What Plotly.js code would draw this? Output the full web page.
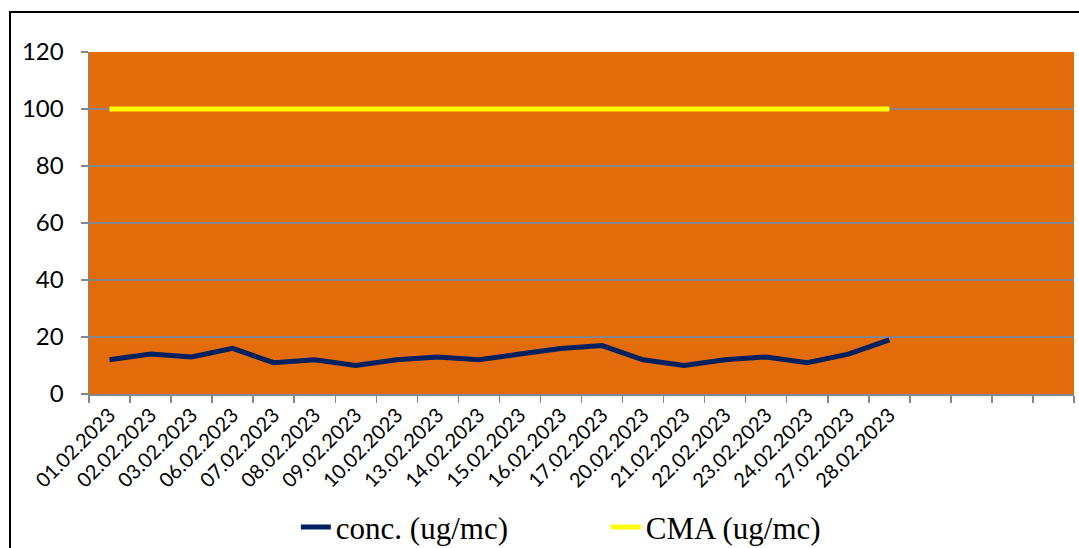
<!DOCTYPE html>
<html>
<head>
<meta charset="utf-8">
<script src="https://cdn.plot.ly/plotly-3.0.1.min.js"></script>
<style>
  html, body { margin: 0; padding: 0; background: #ffffff; overflow: hidden; }
  #chart { width: 1079px; height: 548px; }
  #frame { position: absolute; left: 9px; top: 11px; width: 1200px; height: 700px;
           border-top: 2px solid #000; border-left: 2px solid #000; pointer-events: none; }
</style>
</head>
<body>
<div id="chart"></div>
<div id="frame"></div>
<script>
// Dates (x categories)
const dates = ["01.02.2023","02.02.2023","03.02.2023","06.02.2023","07.02.2023","08.02.2023",
  "09.02.2023","10.02.2023","13.02.2023","14.02.2023","15.02.2023","16.02.2023","17.02.2023",
  "20.02.2023","21.02.2023","22.02.2023","23.02.2023","24.02.2023","27.02.2023","28.02.2023"];
// Empty trailing category slots on the axis
const emptySlots = [" ", "  ", "   ", "    "];
// conc. (ug/mc)
const conc = [12, 14, 13, 16, 11, 12, 10, 12, 13, 12, 14, 16, 17, 12, 10, 12, 13, 11, 14, 19];
// CMA (ug/mc)
const cma = [100, 100, 100, 100, 100, 100, 100, 100, 100, 100, 100, 100, 100, 100, 100, 100, 100, 100, 100, 100];
const yTicks = [0, 20, 40, 60, 80, 100, 120];

const categories = dates.concat(emptySlots);

const traces = [
  { x: dates, y: conc, type: "scatter", mode: "lines", name: "conc. (ug/mc)",
    line: { color: "#002060", width: 5 } },
  { x: dates, y: cma, type: "scatter", mode: "lines", name: "CMA (ug/mc)",
    line: { color: "#FFFF00", width: 5 } }
];

const layout = {
  width: 1079, height: 548,
  margin: { l: 89, r: 5, t: 52, b: 154, autoexpand: false },
  paper_bgcolor: "rgba(0,0,0,0)",
  plot_bgcolor: "#E36C0A",
  showlegend: true,
  legend: {
    orientation: "h", x: 0.21, xanchor: "left", y: -0.39, yanchor: "middle",
    font: { family: "Liberation Serif, Times New Roman, serif", size: 31, color: "#000" },
    bgcolor: "rgba(0,0,0,0)", entrywidth: 265, entrywidthmode: "pixels", itemclick: false
  },
  xaxis: {
    type: "category", categoryorder: "array", categoryarray: categories,
    range: [-0.5, categories.length - 0.5],
    tickmode: "linear", tick0: 0, dtick: 1,
    tickson: "boundaries", ticks: "outside", ticklen: 7, tickwidth: 1.5, tickcolor: "#868686",
    showline: true, linecolor: "#868686", linewidth: 1.5,
    showgrid: false, zeroline: false,
    tickangle: -45,
    tickfont: { family: "Lato, Calibri, sans-serif", size: 20, color: "#000" }
  },
  yaxis: {
    range: [0, 120], tickmode: "array", tickvals: yTicks, ticktext: yTicks.map(String),
    ticks: "outside", ticklen: 7, tickwidth: 1.5, tickcolor: "#868686",
    showline: true, linecolor: "#868686", linewidth: 1.5,
    showgrid: true, gridcolor: "#868686", gridwidth: 1.5, zeroline: false,
    ticklabelstandoff: 12,
    tickfont: { family: "Lato, Calibri, sans-serif", size: 24, color: "#000" }
  }
};

Plotly.newPlot("chart", traces, layout, { staticPlot: true, displayModeBar: false });
</script>
</body>
</html>
